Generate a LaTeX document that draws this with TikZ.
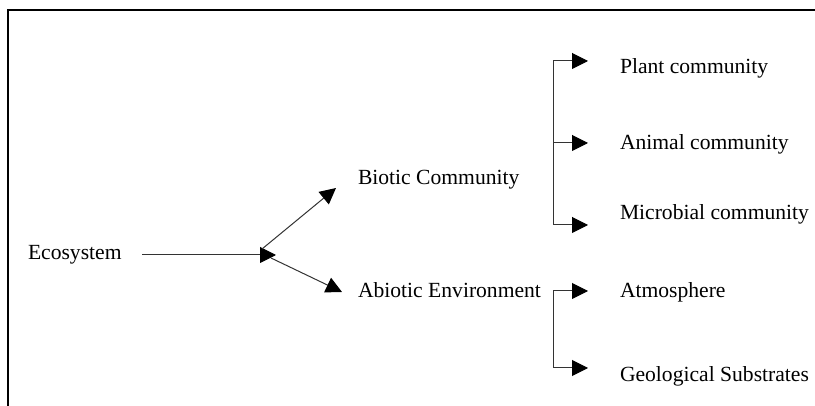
\documentclass[tikz,border=0pt]{standalone}
\usepackage{fontspec}
\setmainfont{Liberation Serif}
\usetikzlibrary{arrows.meta}
\begin{document}
\begin{tikzpicture}[x=0.5pt,y=-0.5pt,
  lbl/.style={anchor=base west,inner sep=0pt,outer sep=0pt,font=\fontsize{10.8}{13}\selectfont},
  conn/.style={line width=0.5pt,draw=black!80},
  arr/.style={conn,-{Triangle[length=8pt,width=8pt,fill=black,color=black]}},
  frame/.style={line width=1pt}]
\useasboundingbox (0,0) rectangle (815,406);
\draw[frame] (8,406) -- (8,10) -- (815,10);
% texts
\node[lbl] (eco) at (28,260) {Ecosystem};
\node[lbl] (bio) at (358,185) {Biotic Community};
\node[lbl] (abio) at (358,298) {Abiotic Environment};
\node[lbl] (plant) at (620,74) {Plant community};
\node[lbl] (animal) at (620,150) {Animal community};
\node[lbl] (micro) at (620,220) {Microbial community};
\node[lbl] (atmo) at (620,298) {Atmosphere};
\node[lbl] (geo) at (620,382) {Geological Substrates};
% connector points
\coordinate (e0) at (142,255);
\coordinate (j) at (276,255);
\coordinate (ju) at (262,249);
\coordinate (jd) at (271,258);
\coordinate (bt) at (336,188);
\coordinate (at) at (342,292);
\coordinate (b1) at (553,61);
\coordinate (b2) at (553,143);
\coordinate (b3) at (553,225);
\coordinate (p1) at (588,61);
\coordinate (p2) at (588,143);
\coordinate (p3) at (588,225);
\coordinate (c1) at (553,291);
\coordinate (c2) at (553,368);
\coordinate (q1) at (588,291);
\coordinate (q2) at (588,368);
% connectors
\draw[arr] (e0) -- (j);
\draw[arr] (ju) -- (bt);
\draw[arr] (jd) -- (at);
\draw[conn] (b1) -- (b3);
\draw[arr] (b1) -- (p1);
\draw[arr] (b2) -- (p2);
\draw[arr] (b3) -- (p3);
\draw[conn] (c1) -- (c2);
\draw[arr] (c1) -- (q1);
\draw[arr] (c2) -- (q2);
\end{tikzpicture}
\end{document}
